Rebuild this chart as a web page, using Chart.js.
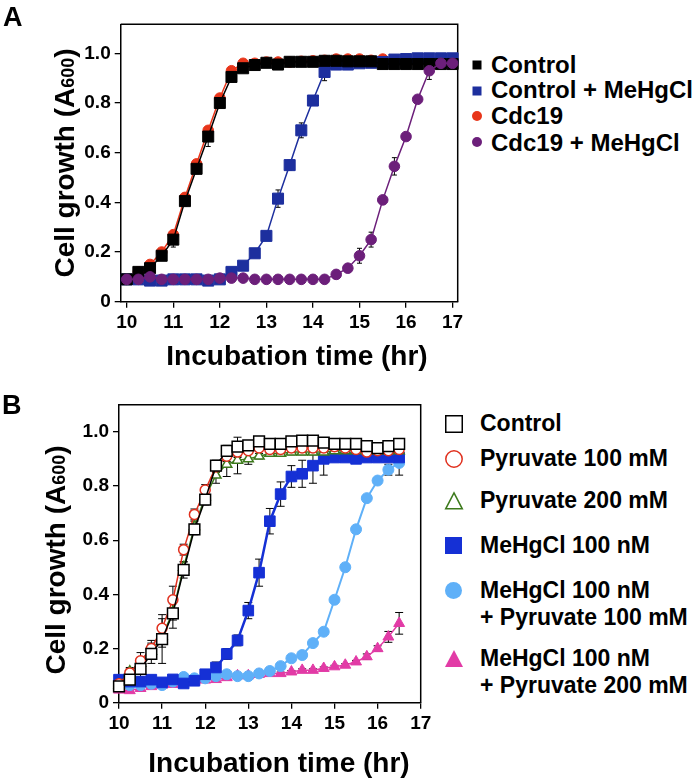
<!DOCTYPE html>
<html>
<head>
<meta charset="utf-8">
<script src="https://cdn.jsdelivr.net/npm/chart.js@4.4.0/dist/chart.umd.min.js"></script>
<style>
  body { margin: 0; width: 700px; height: 783px; background: #fff; position: relative; overflow: hidden;
         font-family: "Liberation Sans", Arial, sans-serif; font-weight: bold; color: #000; }
  canvas { position: absolute; }
  #chartA { left: 0; top: 0; }
  #chartB { left: 0; top: 380px; }
  .panel { position: absolute; font-size: 27px; line-height: 27px; }
  .legA, .legB { position: absolute; white-space: nowrap; }
  .legA { font-size: 24px; line-height: 24px; left: 491px; }
  .legB { font-size: 23px; line-height: 27px; left: 480px; }
  svg.mk { position: absolute; overflow: visible; }
</style>
</head>
<body>
<canvas id="chartA" width="470" height="380"></canvas>
<canvas id="chartB" width="440" height="403"></canvas>

<div class="panel" style="left:3px;top:4px">A</div>
<div class="panel" style="left:2px;top:392px">B</div>

<!-- legend A -->
<svg class="mk" style="left:472px;top:60px" width="10" height="10"><rect x="0.5" y="0.5" width="9" height="9" fill="#000"/></svg>
<div class="legA" style="top:53px">Control</div>
<svg class="mk" style="left:472px;top:85.5px" width="10" height="10"><rect x="0.5" y="0.5" width="9" height="9" fill="#1d2f9e"/></svg>
<div class="legA" style="top:78px">Control + MeHgCl</div>
<svg class="mk" style="left:472px;top:111px" width="10" height="10"><circle cx="5" cy="5" r="5" fill="#e8351a"/></svg>
<div class="legA" style="top:104px">Cdc19</div>
<svg class="mk" style="left:472px;top:137px" width="10" height="10"><circle cx="5" cy="5" r="5" fill="#6c1f7a"/></svg>
<div class="legA" style="top:130.5px">Cdc19 + MeHgCl</div>

<!-- legend B -->
<svg class="mk" style="left:444.5px;top:415px" width="18" height="18"><rect x="0.75" y="0.75" width="16.5" height="16.5" fill="#fff" stroke="#000" stroke-width="1.5"/></svg>
<div class="legB" style="top:410px">Control</div>
<svg class="mk" style="left:444.5px;top:450px" width="18" height="18"><circle cx="9" cy="9" r="8.2" fill="#fff" stroke="#e0301e" stroke-width="1.5"/></svg>
<div class="legB" style="top:445px">Pyruvate 100 mM</div>
<svg class="mk" style="left:444.5px;top:492px" width="18" height="18"><polygon points="9,0.8 17.3,16.8 0.7,16.8" fill="#fff" stroke="#3d7a1c" stroke-width="1.5"/></svg>
<div class="legB" style="top:487px">Pyruvate 200 mM</div>
<svg class="mk" style="left:445px;top:537px" width="17" height="17"><rect x="0" y="0" width="17" height="17" fill="#1530d5"/></svg>
<div class="legB" style="top:532px">MeHgCl 100 nM</div>
<svg class="mk" style="left:445px;top:581.5px" width="17" height="17"><circle cx="8.5" cy="8.5" r="8.5" fill="#5fb0f8"/></svg>
<div class="legB" style="top:576.5px">MeHgCl 100 nM<br>+ Pyruvate 100 mM</div>
<svg class="mk" style="left:444.5px;top:650px" width="18" height="17"><polygon points="9,0 18,17 0,17" fill="#e23ba6"/></svg>
<div class="legB" style="top:645px">MeHgCl 100 nM<br>+ Pyruvate 200 mM</div>

<script>
const FONT = '"Liberation Sans", Arial, sans-serif';

// ---- Panel A data ----
const timesA = [10, 10.25, 10.5, 10.75, 11, 11.25, 11.5, 11.75, 12, 12.25, 12.5, 12.75, 13, 13.25, 13.5,
                13.75, 14, 14.25, 14.5, 14.75, 15, 15.25, 15.5, 15.75, 16, 16.25, 16.5, 16.75, 17];
const controlA = [0.09, 0.12, 0.135, 0.185, 0.25, 0.405, 0.535, 0.665, 0.80, 0.905, 0.94, 0.953, 0.962, 0.955, 0.966,
                  0.966, 0.966, 0.97, 0.97, 0.968, 0.968, 0.968, 0.957, 0.957, 0.957, 0.957, 0.957, 0.957, 0.957];
const controlMeA = [0.09, 0.09, 0.085, 0.085, 0.09, 0.09, 0.09, 0.085, 0.09, 0.12, 0.145, 0.195, 0.265, 0.415, 0.55,
                    0.69, 0.81, 0.925, 0.955, 0.955, 0.96, 0.962, 0.965, 0.975, 0.977, 0.98, 0.98, 0.98, 0.98];
const cdc19A = [0.09, 0.12, 0.15, 0.2, 0.27, 0.42, 0.555, 0.69, 0.82, 0.93, 0.96, 0.96, 0.965, 0.965, 0.965,
                0.968, 0.97, 0.972, 0.977, 0.977, 0.977, 0.972, 0.977, 0.965, 0.962, 0.962, 0.962, 0.962, 0.962];
const cdc19MeA = [0.09, 0.09, 0.1, 0.09, 0.09, 0.09, 0.09, 0.09, 0.095, 0.095, 0.095, 0.09, 0.09, 0.09, 0.09,
                  0.09, 0.09, 0.09, 0.11, 0.135, 0.185, 0.25, 0.41, 0.545, 0.665, 0.815, 0.93, 0.96, 0.96];
const controlErrA = [0.005, 0.005, 0.01, 0.01, 0.03, 0.02, 0.02, 0.04, 0.02, 0.02, 0.01, 0.005, 0.005, 0.005, 0.005,
                     0.005, 0.005, 0.005, 0.005, 0.005, 0.005, 0.005, 0.005, 0.005, 0.005, 0.005, 0.005, 0.005, 0.005];
const controlMeErrA = [0.005, 0.005, 0.005, 0.005, 0.005, 0.005, 0.005, 0.005, 0.005, 0.01, 0.01, 0.01, 0.015, 0.035, 0.02,
                       0.03, 0.02, 0.035, 0.01, 0.005, 0.005, 0.005, 0.005, 0.005, 0.005, 0.005, 0.005, 0.005, 0.005];
const cdc19ErrA = [0.005, 0.005, 0.005, 0.005, 0.01, 0.01, 0.01, 0.01, 0.01, 0.01, 0.005, 0.005, 0.005, 0.005, 0.005,
                   0.005, 0.005, 0.005, 0.005, 0.005, 0.005, 0.005, 0.005, 0.005, 0.005, 0.005, 0.005, 0.005, 0.005];
const cdc19MeErrA = [0.005, 0.005, 0.005, 0.005, 0.005, 0.005, 0.005, 0.005, 0.005, 0.005, 0.005, 0.005, 0.005, 0.005, 0.005,
                     0.005, 0.005, 0.005, 0.01, 0.01, 0.03, 0.03, 0.01, 0.035, 0.01, 0.01, 0.035, 0.005, 0.005];

// ---- Panel B data ----
const timesB = [10, 10.25, 10.5, 10.75, 11, 11.25, 11.5, 11.75, 12, 12.25, 12.5, 12.75, 13, 13.25,
                13.5, 13.75, 14, 14.25, 14.5, 14.75, 15, 15.25, 15.5, 15.75, 16, 16.25, 16.5];
const controlB = [0.06, 0.085, 0.125, 0.18, 0.235, 0.33, 0.49, 0.64, 0.75, 0.875, 0.93, 0.945, 0.95, 0.965,
                  0.955, 0.955, 0.965, 0.967, 0.967, 0.96, 0.955, 0.955, 0.955, 0.947, 0.94, 0.947, 0.955];
const pyr100B = [0.07, 0.11, 0.155, 0.2, 0.275, 0.38, 0.565, 0.695, 0.785, 0.87, 0.91, 0.925, 0.93, 0.94,
                 0.935, 0.935, 0.94, 0.94, 0.94, 0.94, 0.945, 0.94, 0.935, 0.925, 0.93, 0.93, 0.935];
const pyr200B = [0.065, 0.115, 0.145, 0.19, 0.245, 0.335, 0.5, 0.65, 0.76, 0.84, 0.88, 0.895, 0.9, 0.91,
                 0.92, 0.92, 0.925, 0.925, 0.925, 0.925, 0.93, 0.93, 0.93, 0.93, 0.93, 0.93, 0.93];
const meB = [0.085, 0.078, 0.078, 0.085, 0.075, 0.086, 0.071, 0.081, 0.105, 0.13, 0.18, 0.23, 0.34, 0.48,
             0.67, 0.77, 0.835, 0.845, 0.875, 0.9, 0.905, 0.905, 0.9, 0.905, 0.905, 0.905, 0.905];
const mePyr100B = [0.07, 0.065, 0.065, 0.07, 0.065, 0.078, 0.095, 0.09, 0.09, 0.098, 0.105, 0.098, 0.098, 0.108,
                   0.117, 0.135, 0.164, 0.176, 0.22, 0.262, 0.38, 0.5, 0.64, 0.755, 0.82, 0.86, 0.885];
const mePyr200B = [0.047, 0.045, 0.053, 0.06, 0.065, 0.068, 0.074, 0.078, 0.084, 0.086, 0.093, 0.1, 0.1, 0.105,
                   0.108, 0.108, 0.114, 0.12, 0.12, 0.127, 0.133, 0.139, 0.151, 0.17, 0.2, 0.243, 0.293];
const controlErrB = [0.01, 0.02, 0.03, 0.035, 0.09, 0.055, 0.03, 0.02, 0.02, 0.02, 0.02, 0.035, 0.015, 0.01,
                     0.01, 0.01, 0.01, 0.01, 0.01, 0.01, 0.01, 0.01, 0.01, 0.01, 0.01, 0.01, 0.01];
const pyr100ErrB = [0.01, 0.02, 0.03, 0.03, 0.035, 0.05, 0.02, 0.02, 0.02, 0.02, 0.02, 0.02, 0.01, 0.01,
                    0.01, 0.01, 0.01, 0.01, 0.01, 0.01, 0.01, 0.01, 0.01, 0.01, 0.01, 0.01, 0.01];
const pyr200ErrB = [0.01, 0.01, 0.02, 0.03, 0.04, 0.03, 0.02, 0.02, 0.02, 0.03, 0.045, 0.05, 0.02, 0.01,
                    0.01, 0.01, 0.01, 0.01, 0.01, 0.01, 0.01, 0.01, 0.01, 0.01, 0.01, 0.01, 0.01];
const meErrB = [0.01, 0.01, 0.01, 0.01, 0.01, 0.01, 0.01, 0.01, 0.01, 0.02, 0.02, 0.02, 0.03, 0.05,
                0.047, 0.045, 0.04, 0.05, 0.065, 0.06, 0.01, 0.01, 0.01, 0.01, 0.01, 0.01, 0.01];
const mePyr100ErrB = [0.01, 0.01, 0.01, 0.01, 0.01, 0.01, 0.01, 0.01, 0.01, 0.01, 0.01, 0.01, 0.01, 0.01,
                      0.01, 0.01, 0.01, 0.01, 0.01, 0.01, 0.01, 0.01, 0.01, 0.01, 0.01, 0.02, 0.045];
const mePyr200ErrB = [0.005, 0.005, 0.005, 0.005, 0.005, 0.005, 0.005, 0.005, 0.005, 0.005, 0.005, 0.005, 0.005, 0.005,
                      0.005, 0.005, 0.005, 0.005, 0.005, 0.005, 0.005, 0.005, 0.005, 0.01, 0.01, 0.02, 0.04];

const xTicks = [10, 11, 12, 13, 14, 15, 16, 17];
const yTicks = [0, 0.2, 0.4, 0.6, 0.8, 1.0];

function pts(xs, ys) {
    return xs.map((x, i) => ({ x, y: ys[i] }));
}

// error bars drawn behind the markers
const errorBars = {
    id: 'errorBars',
    beforeDatasetsDraw(chart, args, opts) {
        const { ctx, scales: { x, y } } = chart;
        ctx.save();
        ctx.strokeStyle = '#000';
        ctx.lineWidth = 1;
        chart.data.datasets.forEach(ds => {
            if (!ds.errors) return;
            ds.data.forEach((p, j) => {
                const e = ds.errors[j];
                if (!e) return;
                const px = x.getPixelForValue(p.x);
                const top = y.getPixelForValue(p.y + e);
                const bot = y.getPixelForValue(p.y - e);
                const c = opts.cap;
                ctx.beginPath();
                ctx.moveTo(px, top); ctx.lineTo(px, bot);
                ctx.moveTo(px - c, top); ctx.lineTo(px + c, top);
                ctx.moveTo(px - c, bot); ctx.lineTo(px + c, bot);
                ctx.stroke();
            });
        });
        ctx.restore();
    }
};

// top and right edges of the box
const frame = {
    id: 'frame',
    beforeDatasetsDraw(chart) {
        const { ctx, chartArea: a } = chart;
        ctx.save();
        ctx.strokeStyle = '#000';
        ctx.lineWidth = 1.5;
        ctx.beginPath();
        ctx.moveTo(a.left, a.top);
        ctx.lineTo(a.right, a.top);
        ctx.lineTo(a.right, a.bottom);
        ctx.stroke();
        ctx.restore();
    }
};

// axis titles, y one has a smaller "600"
const axisTitles = {
    id: 'axisTitles',
    afterDraw(chart, args, o) {
        const ctx = chart.ctx;
        ctx.save();
        ctx.fillStyle = '#000';
        ctx.textBaseline = 'alphabetic';
        ctx.font = `bold 28px ${FONT}`;
        ctx.textAlign = 'center';
        ctx.fillText('Incubation time (hr)', o.xCenter, o.xBaseline);

        const parts = [['Cell growth (A', 28], ['600', 18], [')', 28]];
        const widths = parts.map(([t, s]) => { ctx.font = `bold ${s}px ${FONT}`; return ctx.measureText(t).width; });
        const total = widths.reduce((a, b) => a + b, 0);
        ctx.translate(o.yBaseline, o.yCenter);
        ctx.rotate(-Math.PI / 2);
        ctx.textAlign = 'left';
        let pos = -total / 2;
        parts.forEach(([t, s], i) => {
            ctx.font = `bold ${s}px ${FONT}`;
            ctx.fillText(t, pos, 0);
            pos += widths[i];
        });
        ctx.restore();
    }
};

function makeScales(xMin, xMax, yMax, yWidth, xHeight) {
    const grid = { drawOnChartArea: false, drawTicks: true, tickLength: 6, color: '#000', lineWidth: 1.3 };
    const border = { display: true, color: '#000', width: 1.5 };
    const font = { family: FONT, size: 19, weight: 'bold' };
    return {
        x: {
            type: 'linear', min: xMin, max: xMax,
            grid, border,
            ticks: { color: '#000', font, padding: 4, maxRotation: 0, autoSkip: false, stepSize: 1,
                     callback: v => String(v) },
            afterBuildTicks: s => { s.ticks = xTicks.map(v => ({ value: v })); },
            afterFit: s => { s.height = xHeight; }
        },
        y: {
            type: 'linear', min: 0, max: yMax,
            grid, border,
            ticks: { color: '#000', font, padding: 4, stepSize: 0.2,
                     callback: v => v === 0 ? '0' : v.toFixed(1) },
            afterBuildTicks: s => { s.ticks = yTicks.map(v => ({ value: v })); },
            afterFit: s => { s.width = yWidth; }
        }
    };
}

function baseOptions(scales, padding, titles) {
    return {
        responsive: false,
        animation: false,
        layout: { padding },
        scales,
        plugins: {
            legend: { display: false },
            tooltip: { enabled: false },
            errorBars: { cap: titles.cap },
            axisTitles: titles
        }
    };
}

function filledSeries(label, xs, ys, errs, color, style, radius, lineWidth, order) {
    return {
        label, data: pts(xs, ys), errors: errs, order,
        borderColor: color, backgroundColor: color, borderWidth: lineWidth,
        pointStyle: style, pointRadius: radius, pointBackgroundColor: color,
        pointBorderColor: color, pointBorderWidth: 1, tension: 0, clip: false
    };
}

function openSeries(label, xs, ys, errs, color, style, radius, lineWidth) {
    return {
        label, data: pts(xs, ys), errors: errs,
        borderColor: color, backgroundColor: '#fff', borderWidth: lineWidth,
        pointStyle: style, pointRadius: radius, pointBackgroundColor: '#fff',
        pointBorderColor: color, pointBorderWidth: 1.5, tension: 0, clip: false
    };
}

new Chart(document.getElementById('chartA'), {
    type: 'line',
    data: {
        datasets: [
            filledSeries('Control', timesA, controlA, controlErrA, '#000000', 'rect', 7.8, 1.5, 1),
            filledSeries('Control + MeHgCl', timesA, controlMeA, controlMeErrA, '#1d2f9e', 'rect', 7.8, 1.5, 2),
            filledSeries('Cdc19', timesA, cdc19A, cdc19ErrA, '#e8351a', 'circle', 5.3, 1.5, 3),
            filledSeries('Cdc19 + MeHgCl', timesA, cdc19MeA, cdc19MeErrA, '#6c1f7a', 'circle', 5.3, 1.5, 0)
        ]
    },
    options: baseOptions(makeScales(9.87, 17.11, 1.117, 120.7, 40),
        { left: 0, top: 24.3, right: 12.3, bottom: 38.3 },
        { xCenter: 297, xBaseline: 365, yCenter: 163, yBaseline: 74, cap: 2.5 }),
    plugins: [errorBars, frame, axisTitles]
});

new Chart(document.getElementById('chartB'), {
    type: 'line',
    data: {
        datasets: [
            openSeries('Control', timesB, controlB, controlErrB, '#000000', 'rect', 7.6, 1.5),
            openSeries('Pyruvate 100 mM', timesB, pyr100B, pyr100ErrB, '#e0301e', 'circle', 5, 1.5),
            openSeries('Pyruvate 200 mM', timesB, pyr200B, pyr200ErrB, '#3d7a1c', 'triangle', 5.8, 1.5),
            filledSeries('MeHgCl 100 nM', timesB, meB, meErrB, '#1530d5', 'rect', 7.5, 2.5, 0),
            filledSeries('MeHgCl 100 nM + Pyruvate 100 mM', timesB, mePyr100B, mePyr100ErrB, '#5fb0f8', 'circle', 5.5, 2, 0),
            filledSeries('MeHgCl 100 nM + Pyruvate 200 mM', timesB, mePyr200B, mePyr200ErrB, '#e23ba6', 'triangle', 6.3, 1.5, 0)
        ]
    },
    options: baseOptions(makeScales(10, 17, 1.1, 119, 40),
        { left: 0, top: 24.7, right: 19.3, bottom: 40.3 },
        { xCenter: 279, xBaseline: 391.5, yCenter: 180, yBaseline: 65, cap: 4 }),
    plugins: [errorBars, frame, axisTitles]
});
</script>
</body>
</html>
